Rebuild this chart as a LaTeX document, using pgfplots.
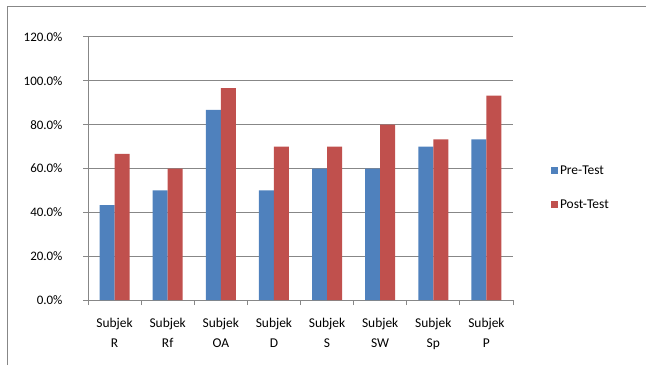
\documentclass[border=0pt]{standalone}
\usepackage{fontspec}
\setmainfont{Carlito}
\usepackage{pgfplots}
\pgfplotsset{compat=1.18}
\definecolor{preblue}{HTML}{4F81BD}
\definecolor{postred}{HTML}{C0504D}
\definecolor{gridgray}{HTML}{878787}
\begin{document}
\begin{tikzpicture}[x=1bp,y=1bp]
\useasboundingbox (0,0) rectangle (646,365);
\draw[gridgray, line width=1bp] (7,0) -- (7,358) -- (646,358);
\begin{axis}[
  at={(88bp,65bp)}, anchor=south west,
  scale only axis, width=425bp, height=263bp,
  ybar=0pt, bar width=15bp,
  xmin=-0.5, xmax=7.5, ymin=0, ymax=120,
  axis x line*=bottom, axis y line*=left,
  axis line style={gridgray, line width=1bp},
  ymajorgrids, grid style={gridgray, line width=1bp},
  xtick={0,...,7},
  xticklabels={{Subjek\\R},{Subjek\\Rf},{Subjek\\OA},{Subjek\\D},{Subjek\\S},{Subjek\\SW},{Subjek\\Sp},{Subjek\\P}},
  xticklabel style={align=center, font=\fontsize{13.5}{20}\selectfont, yshift=-10bp},
  major x tick style={draw=none},
  minor xtick={-0.5,0.5,...,7.5},
  minor tick length=5bp,
  minor x tick style={gridgray, line width=1bp},
  ytick={0,20,...,120},
  yticklabel={\pgfmathprintnumber[fixed,fixed zerofill,precision=1]{\tick}\%},
  /pgf/number format/assume math mode=true,
  yticklabel style={font=\fontsize{13}{16}\selectfont, xshift=-17bp},
  major tick length=5bp,
  tick align=outside,
  y tick style={gridgray, line width=1bp},
  legend style={draw=none, fill=none, at={(1.089,0.4275)}, anchor=west,
    font=\fontsize{13.5}{16}\selectfont, row sep=20bp, inner sep=0pt},
  legend cell align=left,
  legend image code/.code={\fill[#1] (0bp,-3.5bp) rectangle (7bp,3.5bp);},
]
\addplot[fill=preblue, draw=none] coordinates {(0,43.3) (1,50) (2,86.7) (3,50) (4,60) (5,60) (6,70) (7,73.3)};
\addplot[fill=postred, draw=none] coordinates {(0,66.7) (1,60) (2,96.7) (3,70) (4,70) (5,80) (6,73.3) (7,93.3)};
\legend{Pre-Test, Post-Test}
\end{axis}
\end{tikzpicture}
\end{document}
